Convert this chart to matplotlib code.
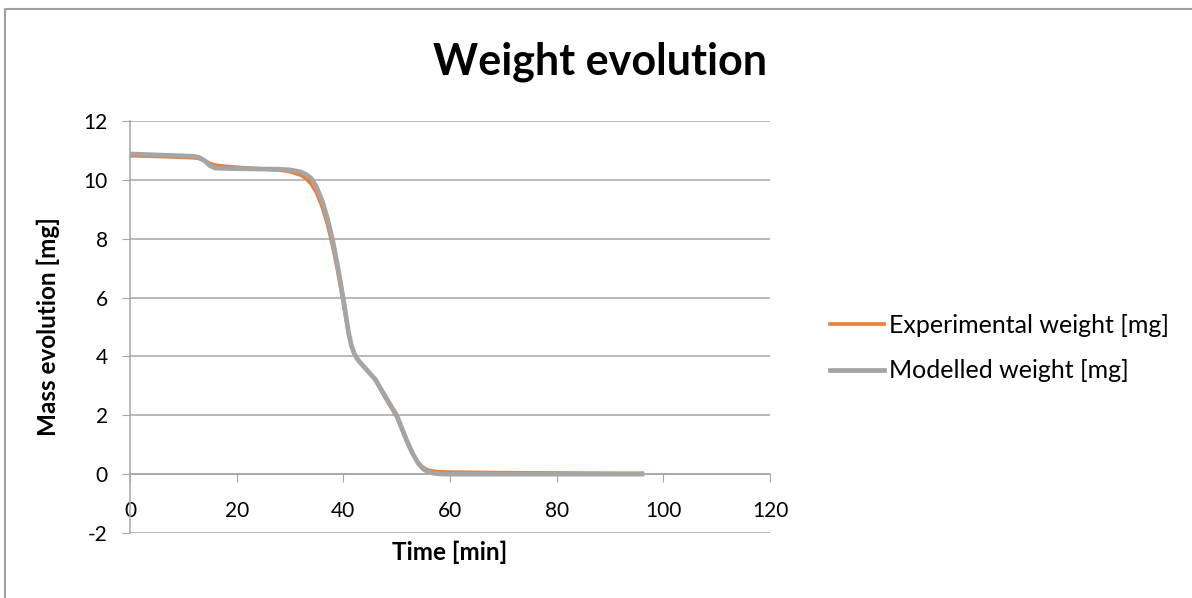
import matplotlib
matplotlib.use('Agg')
import matplotlib.pyplot as plt
from matplotlib.lines import Line2D

plt.rcParams['font.family'] = ['Lato', 'DejaVu Sans']
plt.rcParams['axes.unicode_minus'] = False

# time in minutes
t_exp = [0, 6, 12, 13, 14, 15, 16, 18, 20, 24, 28, 30, 32, 33, 34, 35, 36, 37, 38, 39,
         40, 41, 41.5, 42, 42.5, 43, 44, 46, 48, 50, 52, 53, 54, 55, 56, 57, 58, 60, 70,
         80, 90, 96]
m_exp = [10.82, 10.79, 10.75, 10.72, 10.65, 10.56, 10.5, 10.46, 10.43, 10.38, 10.33, 10.28,
         10.16, 10.05, 9.85, 9.55, 9.1, 8.5, 7.75, 6.85, 5.8, 4.75, 4.35, 4.1, 3.95, 3.85,
         3.62, 3.2, 2.55, 1.95, 1.05, 0.68, 0.4, 0.22, 0.13, 0.1, 0.08, 0.07, 0.05, 0.04,
         0.03, 0.03]

t_mod = [0, 6, 12, 13, 14, 15, 16, 18, 20, 24, 28, 30, 32, 33, 34, 35, 36, 37, 38, 39,
         40, 41, 41.5, 42, 42.5, 43, 44, 46, 48, 50, 52, 53, 54, 55, 56, 57, 58, 60, 70,
         80, 90, 96]
m_mod = [10.88, 10.84, 10.8, 10.76, 10.65, 10.48, 10.4, 10.39, 10.38, 10.37, 10.36, 10.34,
         10.27, 10.18, 10.05, 9.75, 9.3, 8.7, 7.95, 7.0, 5.95, 4.8, 4.38, 4.12, 3.95, 3.82,
         3.62, 3.22, 2.6, 2.0, 1.1, 0.7, 0.38, 0.17, 0.07, 0.03, 0.01, 0.0, 0.0, 0.0, 0.0,
         0.0]

x_ticks = [0, 20, 40, 60, 80, 100, 120]
y_ticks = [-2, 0, 2, 4, 6, 8, 10, 12]

grid_col = '#a6a6a6'

fig = plt.figure(figsize=(11.92, 5.98), dpi=100)
ax = fig.add_axes([130 / 1192, 1 - 533 / 598, 640 / 1192, 412 / 598])

ax.plot(t_exp, m_exp, color='#ED7D31', lw=2.6, label='Experimental weight [mg]', zorder=3)
ax.plot(t_mod, m_mod, color='#A5A5A5', lw=3.4, label='Modelled weight [mg]', zorder=4)

ax.set_xlim(0, 120)
ax.set_ylim(-2, 12)
ax.set_xticks(x_ticks)
ax.set_yticks(y_ticks)
ax.yaxis.grid(True, color=grid_col, lw=1.1)
ax.set_axisbelow(True)

for s in ['top', 'right']:
    ax.spines[s].set_visible(False)
ax.spines['bottom'].set_position(('data', 0))
ax.spines['bottom'].set_color(grid_col)
ax.spines['left'].set_color(grid_col)
ax.spines['bottom'].set_linewidth(1.1)
ax.spines['left'].set_linewidth(1.1)

ax.tick_params(axis='x', direction='out', length=6, color=grid_col, pad=13, labelsize=15)
ax.tick_params(axis='y', direction='out', length=6, color=grid_col, pad=10, labelsize=15)

fig.text(0.503, 1 - 62 / 598, 'Weight evolution', ha='center', va='center',
         fontsize=31, fontweight='bold')
fig.text(450 / 1192, 1 - 552 / 598, 'Time [min]', ha='center', va='center',
         fontsize=17.5, fontweight='bold')
fig.text(48 / 1192, 1 - 327 / 598, 'Mass evolution [mg]', ha='center', va='center',
         rotation=90, fontsize=17.5, fontweight='bold')

ax.legend(loc='center left', bbox_to_anchor=(830 / 1192, 1 - 348 / 598),
          bbox_transform=fig.transFigure, frameon=False, fontsize=18,
          handlelength=2.15, handletextpad=0.2, labelspacing=0.9, borderpad=0,
          borderaxespad=0)

# outer chart frame (top and left edges visible)
fig.add_artist(Line2D([5 / 1192, 5 / 1192, 1.0], [0.0, 1 - 9 / 598, 1 - 9 / 598],
                      transform=fig.transFigure, color='#a0a0a0', lw=1.5))

fig.savefig('out.png', dpi=100)
